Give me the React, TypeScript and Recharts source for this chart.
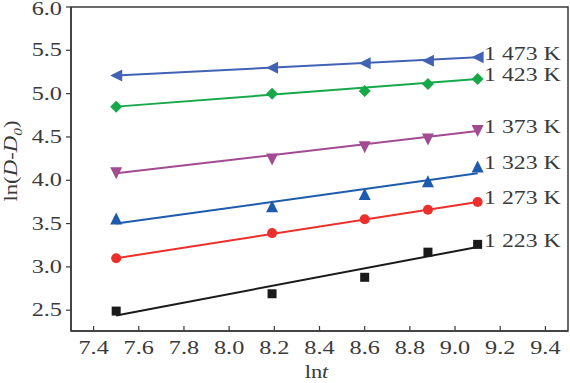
import React from "react";
import {
  ComposedChart,
  Line,
  Scatter,
  XAxis,
  YAxis,
  ReferenceArea,
} from "recharts";

const lnT = [7.5, 8.19, 8.6, 8.88, 9.1];
const fitX = [7.5, 9.1];

const y1473 = [5.21, 5.30, 5.35, 5.38, 5.42];
const y1423 = [4.85, 5.0, 5.03, 5.11, 5.17];
const y1373 = [4.08, 4.24, 4.38, 4.47, 4.57];
const y1323 = [3.56, 3.70, 3.84, 3.99, 4.16];
const y1273 = [3.1, 3.39, 3.55, 3.66, 3.75];
const y1223 = [2.49, 2.69, 2.88, 3.17, 3.26];

const fit1473 = [5.21, 5.42];
const fit1423 = [4.85, 5.17];
const fit1373 = [4.08, 4.57];
const fit1323 = [3.5, 4.08];
const fit1273 = [3.1, 3.75];
const fit1223 = [2.44, 3.23];

const xTicks = [7.4, 7.6, 7.8, 8.0, 8.2, 8.4, 8.6, 8.8, 9.0, 9.2, 9.4];
const yTicks = [2.5, 3.0, 3.5, 4.0, 4.5, 5.0, 5.5, 6.0];

const FONT = '"Liberation Serif", "Times New Roman", serif';
const TXT = "#3a3a3a";

type SeriesDef = {
  name: string;
  color: string;
  pts: number[];
  fit: number[];
  shape: string;
};

const series: SeriesDef[] = [
  { name: "1 473 K", color: "#4262b4", pts: y1473, fit: fit1473, shape: "left" },
  { name: "1 423 K", color: "#17a84a", pts: y1423, fit: fit1423, shape: "diamond" },
  { name: "1 373 K", color: "#a24a92", pts: y1373, fit: fit1373, shape: "down" },
  { name: "1 323 K", color: "#1d5cac", pts: y1323, fit: fit1323, shape: "up" },
  { name: "1 273 K", color: "#ec2f2a", pts: y1273, fit: fit1273, shape: "circle" },
  { name: "1 223 K", color: "#1a1a1a", pts: y1223, fit: fit1223, shape: "square" },
];

const makeShape = (kind: string, color: string) => (props: any) => {
  const { cx, cy } = props;
  if (cx == null || cy == null) return <g />;
  const s = 6;
  switch (kind) {
    case "left":
      return <polygon points={`${cx - s},${cy} ${cx + s},${cy - s} ${cx + s},${cy + s}`} fill={color} />;
    case "down":
      return <polygon points={`${cx - s},${cy - s} ${cx + s},${cy - s} ${cx},${cy + s}`} fill={color} />;
    case "up":
      return <polygon points={`${cx - s},${cy + s} ${cx + s},${cy + s} ${cx},${cy - s}`} fill={color} />;
    case "diamond":
      return <polygon points={`${cx - 6},${cy} ${cx},${cy - 6} ${cx + 6},${cy} ${cx},${cy + 6}`} fill={color} />;
    case "circle":
      return <circle cx={cx} cy={cy} r={5} fill={color} />;
    default:
      return <rect x={cx - 4.5} y={cy - 4.5} width={9} height={9} fill={color} />;
  }
};

const XTick = (props: any) => {
  const { x, y, payload } = props;
  return (
    <g>
      <line x1={x} x2={x} y1={y} y2={y - 5} stroke={TXT} strokeWidth={1.2} />
      <text
        transform={`translate(${x},${y + 23}) scale(1.35,1)`}
        textAnchor="middle"
        fontFamily={FONT}
        fontSize={18}
        fill={TXT}
      >
        {Number(payload.value).toFixed(1)}
      </text>
    </g>
  );
};

const YTick = (props: any) => {
  const { x, y, payload } = props;
  return (
    <text
      transform={`translate(${x},${y + 6}) scale(1.35,1)`}
      textAnchor="end"
      fontFamily={FONT}
      fontSize={18}
      fill={TXT}
    >
      {Number(payload.value).toFixed(1)}
    </text>
  );
};

const makeEndLabel = (name: string, last: number) => (props: any) => {
  const { x, y, index } = props;
  if (index !== last) return null;
  return (
    <text
      transform={`translate(${x + 11},${y + 7}) scale(1.25,1)`}
      fontFamily={FONT}
      fontSize={19}
      fill={TXT}
    >
      {name}
    </text>
  );
};

export default function App() {
  return (
    <div style={{ position: "absolute", left: 0, top: 0, width: 570, height: 383, background: "#fff" }}>
      <ComposedChart
        width={570}
        height={383}
        margin={{ top: 7, right: 2, bottom: 0, left: 0 }}
      >
        <XAxis
          type="number"
          dataKey="x"
          domain={[7.3, 9.5]}
          ticks={xTicks}
          allowDataOverflow
          height={52}
          tickSize={0}
          tickMargin={0}
          tickLine={false}
          tick={<XTick />}
          axisLine={{ stroke: TXT, strokeWidth: 1.5 }}
          label={{
            content: (p: any) => {
              const vb = p.viewBox || {};
              const cx = (vb.x ?? 71) + (vb.width ?? 497) / 2;
              return (
                <text
                  transform={`translate(${cx - 3},${378}) scale(1.25,1)`}
                  textAnchor="middle"
                  fontFamily={FONT}
                  fontSize={18}
                  fill={TXT}
                >
                  ln<tspan fontStyle="italic">t</tspan>
                </text>
              );
            },
          }}
        />
        <YAxis
          type="number"
          dataKey="y"
          domain={[2.26, 6.0]}
          ticks={yTicks}
          allowDataOverflow
          width={71}
          tickSize={5}
          tickMargin={4}
          tick={<YTick />}
          tickLine={{ stroke: TXT, strokeWidth: 1.2 }}
          axisLine={{ stroke: TXT, strokeWidth: 1.5 }}
          label={{
            content: (p: any) => {
              const vb = p.viewBox || {};
              const cy = (vb.y ?? 7) + (vb.height ?? 324) / 2;
              return (
                <text
                  transform={`translate(17,${cy - 8}) rotate(-90) scale(1.2,1)`}
                  textAnchor="middle"
                  fontFamily={FONT}
                  fontSize={19}
                  fill={TXT}
                >
                  ln(<tspan fontStyle="italic">D</tspan>-<tspan fontStyle="italic">D</tspan>
                  <tspan fontStyle="italic" fontSize={13} dy={5}>0</tspan>
                  <tspan dy={-5}>)</tspan>
                </text>
              );
            },
          }}
        />
        <ReferenceArea
          x1={7.3}
          x2={9.5}
          y1={2.26}
          y2={6.0}
          fill="none"
          stroke={TXT}
          strokeWidth={1.5}
          ifOverflow="visible"
        />
        {series.map((s) => (
          <Line
            key={"fit" + s.name}
            data={fitX.map((x, i) => ({ x, y: s.fit[i] }))}
            dataKey="y"
            stroke={s.color}
            strokeWidth={2}
            dot={false}
            activeDot={false}
            isAnimationActive={false}
          />
        ))}
        {series.map((s) => (
          <Scatter
            key={"pts" + s.name}
            data={lnT.map((x, i) => ({ x, y: s.pts[i] }))}
            dataKey="y"
            fill={s.color}
            shape={makeShape(s.shape, s.color)}
            isAnimationActive={false}
            label={makeEndLabel(s.name, lnT.length - 1)}
          />
        ))}
      </ComposedChart>
    </div>
  );
}
